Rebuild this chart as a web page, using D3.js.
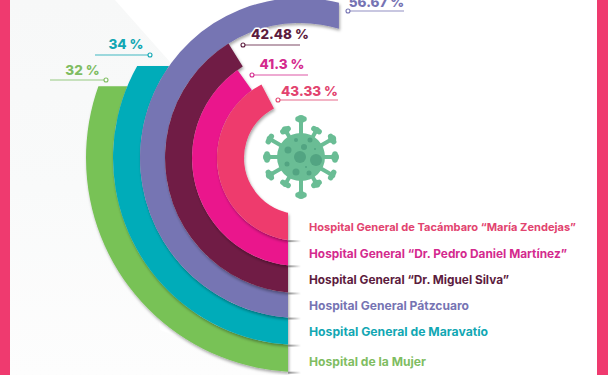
<!DOCTYPE html>
<html><head><meta charset="utf-8">
<script src="https://cdn.jsdelivr.net/npm/d3@7"></script>
<style>html,body{margin:0;padding:0;background:#fff;overflow:hidden}svg{display:block}
text{font-family:Inter,"Noto Sans",sans-serif}</style></head><body>
<script>
const hospitals = ["Hospital de la Mujer","Hospital General de Maravatío","Hospital General Pátzcuaro","Hospital General “Dr. Miguel Silva”","Hospital General “Dr. Pedro Daniel Martínez”","Hospital General de Tacámbaro “María Zendejas”"];
const values = [32,34,56.67,42.48,41.3,43.33];
const valueLabels = ["32 %","34 %","56.67 %","42.48 %","41.3 %","43.33 %"];
const colors = ["#78c257","#00acb9","#7674b3","#6f1e45","#ea178c","#ee3a6d"];
const textColors = ["#7fbd62","#12a7b3","#7674b3","#5c1c3e","#d42a8e","#e2446f"];
// layout, kept apart from the data
const W=608,H=375,cx=300,cy=158,cutX=288;
const radii=[214,187,160,135,108,83,56];
const endCut=["flat","flat","vert","radial","radial","radial"];
const leader=[[106,50,80,74.5,82.5],[150,95,55,49,126],[348,404,11,7,376.5],[243,300,45,39,280],[252,308,75,69,282],[278,338,100,96,309.5]];
const legendY=[366,336,310,284,258,231];
const legendW=[117,179,160,200,258,267];
const legendSize=[12,12,12,12,12,11];

const angle=d3.scaleLinear().domain([32,34,41.3,42.48,43.33,56.67]).range([111,122,144.6,148,152.3,195.3]);
const rad=d=>d*Math.PI/180;

const svg=d3.select("body").append("svg").attr("width",W).attr("height",H);
const defs=svg.append("defs");
const f=defs.append("filter").attr("id","sh").attr("x","-20%").attr("y","-20%").attr("width","140%").attr("height","140%");
f.append("feDropShadow").attr("dx",1).attr("dy",2).attr("stdDeviation",1.8).attr("flood-color","#000").attr("flood-opacity",.35);
const g=defs.append("linearGradient").attr("id","streak");
g.append("stop").attr("offset",0).attr("stop-color","#8a8a8a");
g.append("stop").attr("offset",1).attr("stop-color","#8a8a8a").attr("stop-opacity",0);
const bg=defs.append("linearGradient").attr("id","bgfade").attr("x1",0).attr("y1",0).attr("x2",0).attr("y2",1);
bg.append("stop").attr("offset",0).attr("stop-color","#f7f8f8");
bg.append("stop").attr("offset",.5).attr("stop-color","#f9fafa");
bg.append("stop").attr("offset",1).attr("stop-color","#fdfdfd");
const b=defs.append("filter").attr("id","bl");b.append("feGaussianBlur").attr("stdDeviation",.6);

// background
svg.append("rect").attr("width",W).attr("height",H).attr("fill","#fff");
svg.append("path").attr("d",d3.line()([[10,0],[115,0],[170,62],[140,200],[160,330],[288,375],[10,375]])).attr("fill","url(#bgfade)");
svg.append("rect").attr("width",10).attr("height",H).attr("fill","#ef3a6f");
svg.append("rect").attr("x",597).attr("width",11).attr("height",H).attr("fill","#ef3a6f");

// bands
const arc=d3.arc();
values.forEach((v,i)=>{
  const a=angle(v),ro=radii[i],ri=radii[i+1],mid=(ro+ri)/2,A=rad(180+a);
  const px=cx+mid*Math.sin(A),py=cy-mid*Math.cos(A);
  const id="c"+i;
  const cp=defs.append("clipPath").attr("id",id);
  let extra=0;
  if(endCut[i]==="flat"){cp.append("rect").attr("x",0).attr("y",py).attr("width",cutX).attr("height",H-py);extra=25;}
  else if(endCut[i]==="vert"){cp.append("rect").attr("x",0).attr("y",0).attr("width",cutX).attr("height",H);cp.append("rect").attr("x",cutX-1).attr("y",0).attr("width",px-cutX+1).attr("height",cy);extra=25;}
  else cp.append("rect").attr("x",0).attr("y",0).attr("width",cutX).attr("height",H);
  svg.append("g").attr("filter","url(#sh)").append("g").attr("clip-path",`url(#${id})`)
    .append("path").attr("transform",`translate(${cx},${cy})`).attr("fill",colors[i])
    .attr("d",arc({innerRadius:ri,outerRadius:ro,startAngle:rad(150),endAngle:A+rad(extra)}));
  const y=cy+Math.sqrt(ro*ro-(cx-cutX)*(cx-cutX));
  svg.append("rect").attr("x",cutX).attr("y",y).attr("width",13).attr("height",2).attr("fill","url(#streak)").attr("filter","url(#bl)");
});

// virus
const vx=301,vy=157,vc="#6abd95",vd="#52a482";
const virus=svg.append("g").attr("transform",`translate(${vx},${vy})`);
const spike=[38,31,36,34,36,31,38,31,36,34,36,31];
spike.forEach((l,i)=>{
  const t=rad(i*30),x=l*Math.sin(t),y=-l*Math.cos(t);
  virus.append("line").attr("x2",x).attr("y2",y).attr("stroke",vc).attr("stroke-width",4);
  virus.append("circle").attr("cx",x).attr("cy",y).attr("r",i%3===1?3.2:4).attr("fill",vc);
  virus.append("line").attr("x1",x-3*Math.cos(t)).attr("y1",y-3*Math.sin(t)).attr("x2",x+3*Math.cos(t)).attr("y2",y+3*Math.sin(t)).attr("stroke",vc).attr("stroke-width",5.5).attr("stroke-linecap","round");
});
virus.append("circle").attr("r",24).attr("fill",vc);
[[-1,0,6],[15,3,6],[3,-10,3],[-13,-7,3.5],[-5,15,3.5],[-14,7,2.5],[8,16,2.5],[-5,-17,2],[9,-17,2.5],[14,-8,1],[5,10,1]].forEach(s=>
  virus.append("circle").attr("cx",s[0]).attr("cy",s[1]).attr("r",s[2]).attr("fill",vd));

// labels
values.forEach((v,i)=>{
  const [dot,end,y,base,tx]=leader[i];
  const col=textColors[i];
  svg.append("line").attr("x1",dot).attr("x2",end).attr("y1",y).attr("y2",y).attr("stroke",col).attr("stroke-width",1).attr("opacity",.8);
  svg.append("circle").attr("cx",dot).attr("cy",y).attr("r",2).attr("fill","#fff").attr("stroke",col).attr("stroke-width",1.1);
  svg.append("text").attr("x",tx).attr("y",base).attr("text-anchor","middle").attr("fill",col)
    .attr("font-size",13.5).attr("font-weight",800).attr("stroke","#fff").attr("stroke-width",i===3?3:0).attr("paint-order","stroke")
    .attr("stroke-linejoin","round").text(valueLabels[i]);
});

// legend
hospitals.forEach((h,i)=>{
  svg.append("text").attr("x",309).attr("y",legendY[i]).attr("fill",textColors[i])
    .attr("font-size",legendSize[i]).attr("font-weight",700).attr("textLength",legendW[i]).attr("lengthAdjust","spacingAndGlyphs").text(h);
});
</script></body></html>
